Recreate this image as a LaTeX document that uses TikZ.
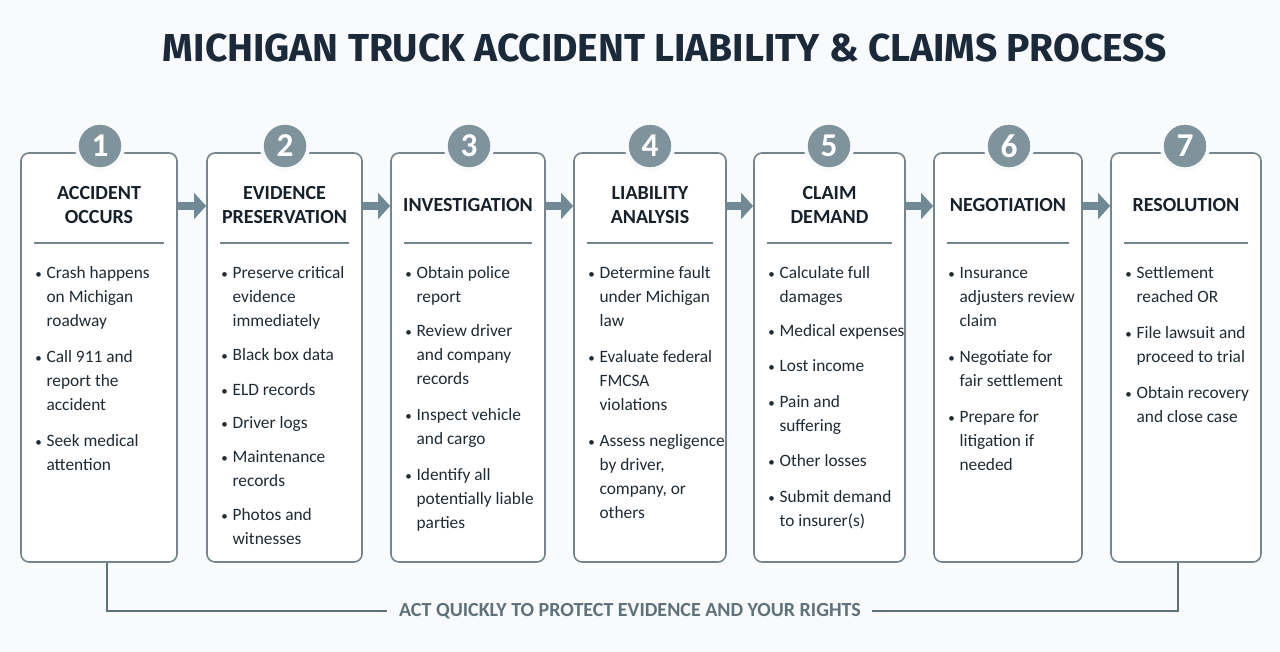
\documentclass[tikz,border=0pt]{standalone}
\usepackage{fontspec}
\setmainfont{Carlito}
\newfontfamily\titlefont{Fira Sans}
\usetikzlibrary{arrows.meta,fit}
\definecolor{bgcol}{HTML}{F8FAFB}
\definecolor{boxline}{HTML}{74858E}
\definecolor{circfill}{HTML}{7E939C}
\definecolor{arrowcol}{HTML}{6F8A95}
\definecolor{titlecol}{HTML}{1B2A3A}
\definecolor{headcol}{HTML}{16212B}
\definecolor{bodycol}{HTML}{1F2A33}
\definecolor{footcol}{HTML}{5E727C}
\tikzset{
  stepbox/.style={draw=boxline, line width=1.2pt, fill=white, rounded corners=6pt, inner sep=0pt},
  numcirc/.style={circle, fill=circfill, draw=bgcol, line width=3pt, minimum size=35pt, inner sep=0pt,
     text=white, font=\fontsize{25}{25}\selectfont\bfseries},
  headtxt/.style={align=center, text=headcol, font=\fontsize{15}{18}\selectfont\bfseries},
  bodytxt/.style={anchor=base west, inner sep=0pt, text=bodycol, font=\fontsize{13}{18}\selectfont},
  sepline/.style={draw=boxline, line width=0.9pt},
  flowarrow/.style={draw=arrowcol, line width=6.5pt, -{Triangle[width=19pt,length=9pt]}},
  footline/.style={draw=footcol, line width=1.1pt},
}
\newcommand\bl{\makebox[8.5pt][l]{\scalebox{0.75}{•}}}
\newcommand\procbox[6]{% idx, left, right, circle x, heading, body
  \node[stepbox, fit={(#2,153) (#3,562)}] (box#1) {};
  \node[numcirc] (num#1) at (#4,146) {#1};
  \node[headtxt] (head#1) at ({(#2+#3)/2},205) {#5};
  \draw[sepline] (#2+13,243) -- (#3-13,243);
  \node[bodytxt] (body#1) at (#2+14,278) {\begin{tabular}[t]{@{}l@{}l@{}}#6\end{tabular}};
}
\begin{document}
\begin{tikzpicture}[x=0.75pt,y=-0.75pt]
\fill[bgcol] (0,0) rectangle (1280,652);
\useasboundingbox (0,0) rectangle (1280,652);
\node[text=titlecol, inner sep=0pt] (title) at (665,48)
  {\resizebox{753pt}{!}{\titlefont\fontsize{31}{31}\selectfont\bfseries MICHIGAN TRUCK ACCIDENT LIABILITY \& CLAIMS PROCESS}};

\procbox{1}{21}{177}{100}{ACCIDENT\\OCCURS}{%
\bl & Crash happens\\ & on Michigan\\ & roadway\\[9pt]
\bl & Call 911 and\\ & report the\\ & accident\\[9pt]
\bl & Seek medical\\ & attention}
\procbox{2}{207}{362}{285}{EVIDENCE\\PRESERVATION}{%
\bl & Preserve critical\\ & evidence\\ & immediately\\[8pt]
\bl & Black box data\\[8pt]
\bl & ELD records\\[7pt]
\bl & Driver logs\\[7pt]
\bl & Maintenance\\ & records\\[8pt]
\bl & Photos and\\ & witnesses}
\procbox{3}{391}{545}{469}{INVESTIGATION}{%
\bl & Obtain police\\ & report\\[8pt]
\bl & Review driver\\ & and company\\ & records\\[9pt]
\bl & Inspect vehicle\\ & and cargo\\[9pt]
\bl & Identify all\\ & potentially liable\\ & parties}
\procbox{4}{574}{726}{650}{LIABILITY\\ANALYSIS}{%
\bl & Determine fault\\ & under Michigan\\ & law\\[9pt]
\bl & Evaluate federal\\ & FMCSA\\ & violations\\[9pt]
\bl & Assess negligence\\ & by driver,\\ & company, or\\ & others}
\procbox{5}{754}{905}{829}{CLAIM\\DEMAND}{%
\bl & Calculate full\\ & damages\\[8pt]
\bl & Medical expenses\\[8pt]
\bl & Lost income\\[9pt]
\bl & Pain and\\ & suffering\\[8pt]
\bl & Other losses\\[9pt]
\bl & Submit demand\\ & to insurer(s)}
\procbox{6}{934}{1082}{1009}{NEGOTIATION}{%
\bl & Insurance\\ & adjusters review\\ & claim\\[9pt]
\bl & Negotiate for\\ & fair settlement\\[9pt]
\bl & Prepare for\\ & litigation if\\ & needed}
\procbox{7}{1111}{1261}{1185}{RESOLUTION}{%
\bl & Settlement\\ & reached OR\\[9pt]
\bl & File lawsuit and\\ & proceed to trial\\[9pt]
\bl & Obtain recovery\\ & and close case}

\foreach \a/\b in {1/2,2/3,3/4,4/5,5/6,6/7}
  \draw[flowarrow] (box\a.east |- 0,206) -- (box\b.west |- 0,206);

\node[text=footcol, font=\fontsize{15}{16}\selectfont\bfseries, inner sep=0pt] (foot) at (630,611)
  {ACT QUICKLY TO PROTECT EVIDENCE AND YOUR RIGHTS};
\coordinate (fl) at (107,611);
\coordinate (fr) at (1178,611);
\draw[footline] (box1.south -| fl) -- (fl) -- ([xshift=-9pt]foot.west);
\draw[footline] ([xshift=8pt]foot.east) -- (fr) -- (box7.south -| fr);
\end{tikzpicture}
\end{document}
